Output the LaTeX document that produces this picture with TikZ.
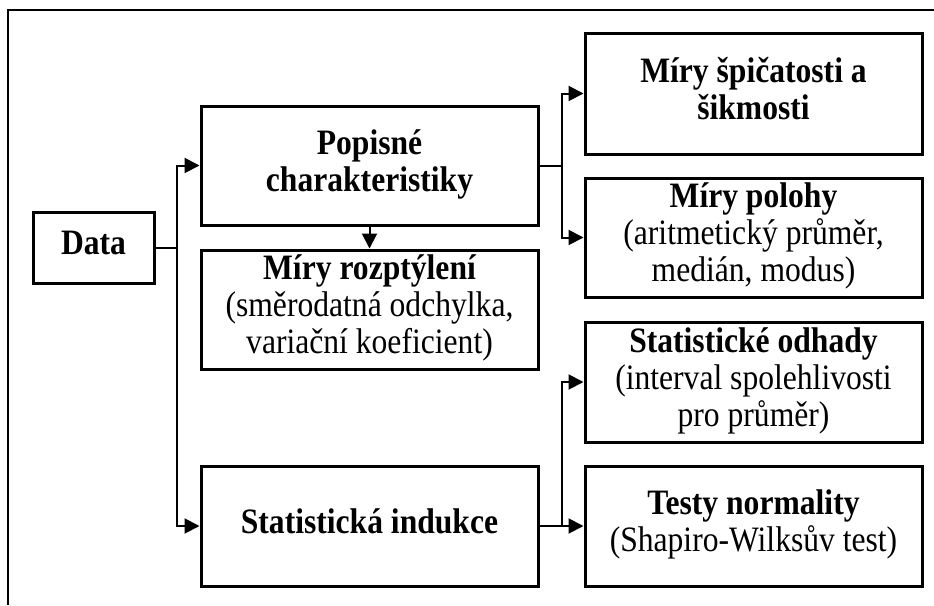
\documentclass[tikz,border=0pt]{standalone}
\usepackage{fontspec}
\usepackage{graphicx}
\setmainfont{Liberation Serif}
\usetikzlibrary{arrows.meta}
\newcommand{\stretchtext}[1]{\scalebox{1}[1.13]{\begin{tabular}{@{}c@{}}#1\end{tabular}}}
\begin{document}
\begin{tikzpicture}[x=1pt,y=-1pt,
  box/.style={draw, line width=3pt, align=center, inner sep=0pt,
    font=\fontsize{31.6}{32.7}\selectfont},
  conn/.style={line width=2pt},
  arr/.style={line width=2pt, -{Triangle[length=15pt,width=15pt]}},
  frame/.style={line width=2pt}]
\useasboundingbox (0,0) rectangle (934,605);
\draw[frame] (8,605) -- (8,10) -- (934,10);

\node[box, minimum width=121pt, minimum height=71pt] (data) at (93.5,247.5) {\stretchtext{\bfseries Data}};
\node[box, minimum width=337pt, minimum height=119pt] (pop) at (369.5,165.5) {\stretchtext{\bfseries Popisné\\\bfseries charakteristiky}};
\node[box, minimum width=337pt, minimum height=119pt] (roz) at (369.5,309.5) {\stretchtext{{\bfseries Míry rozptýlení}\\(směrodatná odchylka,\\variační koeficient)}};
\node[box, minimum width=337pt, minimum height=120pt] (ind) at (369.5,526) {\stretchtext{\bfseries Statistická indukce}};
\node[box, minimum width=337pt, minimum height=121pt] (spic) at (753.5,93.5) {\stretchtext{\bfseries Míry špičatosti a\\\bfseries šikmosti}};
\node[box, minimum width=337pt, minimum height=119pt] (pol) at (753.5,237.5) {\stretchtext{{\bfseries Míry polohy}\\(aritmetický průměr,\\medián, modus)}};
\node[box, minimum width=337pt, minimum height=120pt] (odh) at (753.5,382) {\stretchtext{{\bfseries Statistické odhady}\\(interval spolehlivosti\\pro průměr)}};
\node[box, minimum width=337pt, minimum height=120pt] (tes) at (753.5,526) {\stretchtext{{\bfseries Testy normality}\\(Shapiro-Wilksův test)}};

\coordinate (j1) at (177,247.5);
\coordinate (j2) at (562,165.5);
\coordinate (j3) at (562,526);

\draw[conn] (data.east) -- (j1);
\draw[arr] (j1) |- (pop.west);
\draw[arr] (j1) |- (ind.west);
\draw[arr] (pop.south) -- (roz.north);
\draw[conn] (pop.east) -- (j2);
\draw[arr] (j2) |- (spic.west);
\draw[arr] (j2) |- (pol.west);
\draw[conn] (ind.east) -- (j3);
\draw[arr] (j3) |- (odh.west);
\draw[arr] (j3) -- (tes.west);
\end{tikzpicture}
\end{document}
